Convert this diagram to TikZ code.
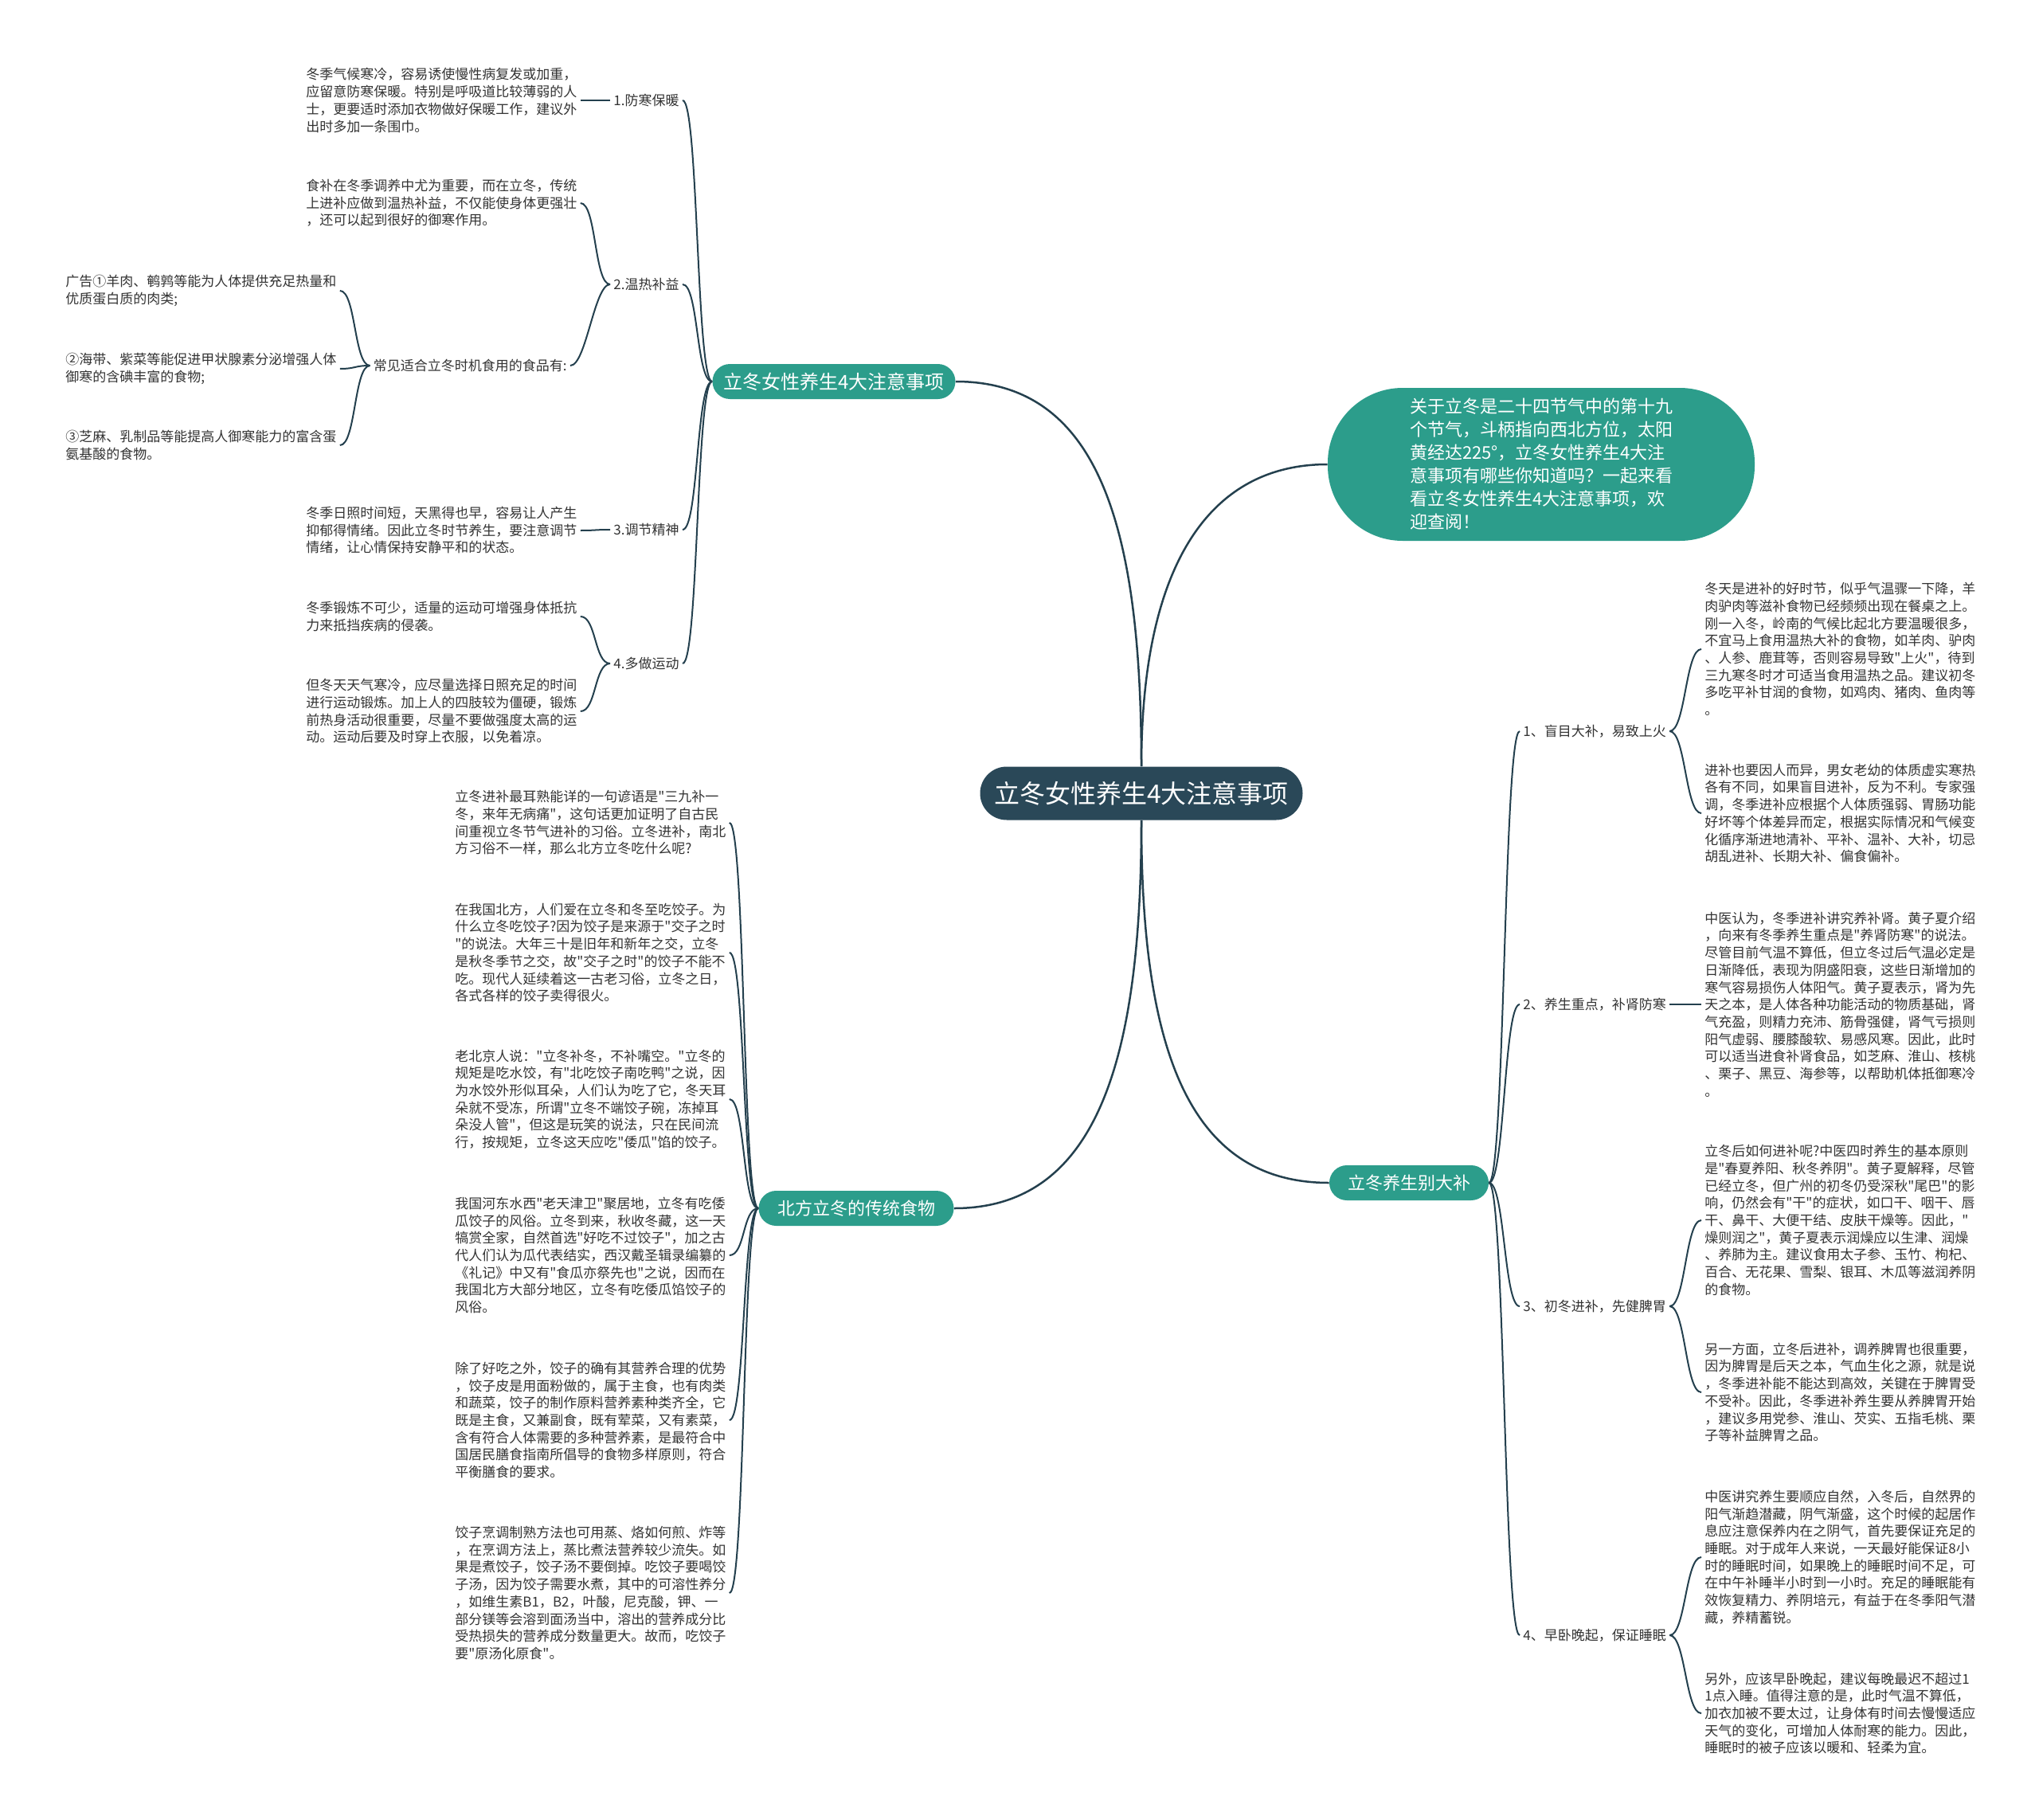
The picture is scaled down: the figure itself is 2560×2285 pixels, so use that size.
\documentclass[tikz,border=0pt]{standalone}
\usepackage{fontspec}
\setmainfont{Noto Sans CJK SC}[Ligatures=TeXOff]
\definecolor{rootc}{HTML}{2A4858}
\definecolor{pillc}{HTML}{2C9D8B}
\definecolor{linec}{HTML}{24404E}
\definecolor{txtc}{HTML}{333333}
\newcommand\lnkL[2]{\draw[link] (#1.west) .. controls +(-20,0) and +(20,0) .. (#2.east);}
\newcommand\lnkR[2]{\draw[link] (#1.east) .. controls +(20,0) and +(-20,0) .. (#2.west);}
\begin{document}
\begin{tikzpicture}[x=0.5pt, y=-0.5pt,
  rootnode/.style={fill=rootc, text=white, rounded corners=16.7pt, minimum width=202.5pt, minimum height=33.5pt, inner sep=0pt, font=\fontsize{16pt}{19pt}\selectfont},
  pill/.style={fill=pillc, text=white, rounded corners=11pt, minimum height=22pt, inner sep=0pt, font=\fontsize{11pt}{13pt}\selectfont},
  leaf/.style={text=txtc, align=left, inner xsep=2pt, inner ysep=0pt, font=\fontsize{8.5pt}{10.85pt}\selectfont},
  link/.style={draw=linec, line width=1pt},
  mainlink/.style={draw=linec, line width=1.25pt}]
  \fill[white] (0,0) rectangle (2560,2285);
  \useasboundingbox (0,0) rectangle (2560,2285);

  \node[rootnode] (root) at (1433,996) {立冬女性养生4大注意事项};
  \node[fill=pillc, text=white, rounded corners=47pt, minimum width=268pt, minimum height=96pt, align=left, inner sep=0pt, font=\fontsize{11pt}{14.5pt}\selectfont] (intro) at (1935,583)
    {关于立冬是二十四节气中的第十九\\个节气，斗柄指向西北方位，太阳\\黄经达225°，立冬女性养生4大注\\意事项有哪些你知道吗？一起来看\\看立冬女性养生4大注意事项，欢\\迎查阅！};
  \node[pill, minimum width=152.5pt, font=\fontsize{12pt}{14pt}\selectfont] (tips) at (1047,479) {立冬女性养生4大注意事项};
  \node[pill, minimum width=122.5pt] (food) at (1075,1517) {北方立冬的传统食物};
  \node[pill, minimum width=100pt] (diet) at (1769,1485) {立冬养生别大补};

  \draw[mainlink] (root.north) .. controls +(0,-300) and +(180,0) .. (tips.east);
  \draw[mainlink] (root.north) .. controls +(0,-250) and +(-150,0) .. (intro.west);
  \draw[mainlink] (root.south) .. controls +(0,300) and +(180,0) .. (food.east);
  \draw[mainlink] (root.south) .. controls +(0,280) and +(-180,0) .. (diet.west);

  % upper left branch
  \node[leaf, anchor=east] (t1) at (857,126) {1.防寒保暖};
  \node[leaf, anchor=east] (t2) at (857,357) {2.温热补益};
  \node[leaf, anchor=east] (t3) at (857,665) {3.调节精神};
  \node[leaf, anchor=east] (t4) at (857,833) {4.多做运动};
  \node[leaf, anchor=west] (t1a) at (380,126) {冬季气候寒冷，容易诱使慢性病复发或加重，\\应留意防寒保暖。特别是呼吸道比较薄弱的人\\士，更要适时添加衣物做好保暖工作，建议外\\出时多加一条围巾。};
  \node[leaf, anchor=west] (t2a) at (380,255) {食补在冬季调养中尤为重要，而在立冬，传统\\上进补应做到温热补益，不仅能使身体更强壮\\，还可以起到很好的御寒作用。};
  \node[leaf, anchor=east] (t2b) at (716,459) {常见适合立冬时机食用的食品有:};
  \node[leaf, anchor=west] (ad1) at (78,365) {广告①羊肉、鹌鹑等能为人体提供充足热量和\\优质蛋白质的肉类;};
  \node[leaf, anchor=west] (ad2) at (78,463) {②海带、紫菜等能促进甲状腺素分泌增强人体\\御寒的含碘丰富的食物;};
  \node[leaf, anchor=west] (ad3) at (78,559) {③芝麻、乳制品等能提高人御寒能力的富含蛋\\氨基酸的食物。};
  \node[leaf, anchor=west] (t3a) at (380,666) {冬季日照时间短，天黑得也早，容易让人产生\\抑郁得情绪。因此立冬时节养生，要注意调节\\情绪，让心情保持安静平和的状态。};
  \node[leaf, anchor=west] (t4a) at (380,774) {冬季锻炼不可少，适量的运动可增强身体抵抗\\力来抵挡疾病的侵袭。};
  \node[leaf, anchor=west] (t4b) at (380,893) {但冬天天气寒冷，应尽量选择日照充足的时间\\进行运动锻炼。加上人的四肢较为僵硬，锻炼\\前热身活动很重要，尽量不要做强度太高的运\\动。运动后要及时穿上衣服，以免着凉。};
  \foreach \c in {t1,t2,t3,t4} {\lnkL{tips}{\c}}
  \lnkL{t1}{t1a}
  \lnkL{t2}{t2a}
  \lnkL{t2}{t2b}
  \foreach \c in {ad1,ad2,ad3} {\lnkL{t2b}{\c}}
  \lnkL{t3}{t3a}
  \lnkL{t4}{t4a}
  \lnkL{t4}{t4b}

  % lower left branch
  \node[leaf, anchor=west] (f1) at (567,1033) {立冬进补最耳熟能详的一句谚语是"三九补一\\冬，来年无病痛"，这句话更加证明了自古民\\间重视立冬节气进补的习俗。立冬进补，南北\\方习俗不一样，那么北方立冬吃什么呢?};
  \node[leaf, anchor=west] (f2) at (567,1196) {在我国北方，人们爱在立冬和冬至吃饺子。为\\什么立冬吃饺子?因为饺子是来源于"交子之时\\"的说法。大年三十是旧年和新年之交，立冬\\是秋冬季节之交，故"交子之时"的饺子不能不\\吃。现代人延续着这一古老习俗，立冬之日，\\各式各样的饺子卖得很火。};
  \node[leaf, anchor=west] (f3) at (567,1380) {老北京人说："立冬补冬，不补嘴空。"立冬的\\规矩是吃水饺，有"北吃饺子南吃鸭"之说，因\\为水饺外形似耳朵，人们认为吃了它，冬天耳\\朵就不受冻，所谓"立冬不端饺子碗，冻掉耳\\朵没人管"，但这是玩笑的说法，只在民间流\\行，按规矩，立冬这天应吃"倭瓜"馅的饺子。};
  \node[leaf, anchor=west] (f4) at (567,1576) {我国河东水西"老天津卫"聚居地，立冬有吃倭\\瓜饺子的风俗。立冬到来，秋收冬藏，这一天\\犒赏全家，自然首选"好吃不过饺子"，加之古\\代人们认为瓜代表结实，西汉戴圣辑录编纂的\\《礼记》中又有"食瓜亦祭先也"之说，因而在\\我国北方大部分地区，立冬有吃倭瓜馅饺子的\\风俗。};
  \node[leaf, anchor=west] (f5) at (567,1783) {除了好吃之外，饺子的确有其营养合理的优势\\，饺子皮是用面粉做的，属于主食，也有肉类\\和蔬菜，饺子的制作原料营养素种类齐全，它\\既是主食，又兼副食，既有荤菜，又有素菜，\\含有符合人体需要的多种营养素，是最符合中\\国居民膳食指南所倡导的食物多样原则，符合\\平衡膳食的要求。};
  \node[leaf, anchor=west] (f6) at (567,2000) {饺子烹调制熟方法也可用蒸、烙如何煎、炸等\\，在烹调方法上，蒸比煮法营养较少流失。如\\果是煮饺子，饺子汤不要倒掉。吃饺子要喝饺\\子汤，因为饺子需要水煮，其中的可溶性养分\\，如维生素B1，B2，叶酸，尼克酸，钾、一\\部分镁等会溶到面汤当中，溶出的营养成分比\\受热损失的营养成分数量更大。故而，吃饺子\\要"原汤化原食"。};
  \foreach \c in {f1,f2,f3,f4,f5,f6} {\lnkL{food}{\c}}

  % right branch
  \node[leaf, anchor=west] (d1) at (1908,918) {1、盲目大补，易致上火};
  \node[leaf, anchor=west] (d2) at (1908,1261) {2、养生重点，补肾防寒};
  \node[leaf, anchor=west] (d3) at (1908,1640) {3、初冬进补，先健脾胃};
  \node[leaf, anchor=west] (d4) at (1908,2053) {4、早卧晚起，保证睡眠};
  \node[leaf, anchor=west] (d1a) at (2136,815) {冬天是进补的好时节，似乎气温骤一下降，羊\\肉驴肉等滋补食物已经频频出现在餐桌之上。\\刚一入冬，岭南的气候比起北方要温暖很多，\\不宜马上食用温热大补的食物，如羊肉、驴肉\\、人参、鹿茸等，否则容易导致"上火"，待到\\三九寒冬时才可适当食用温热之品。建议初冬\\多吃平补甘润的食物，如鸡肉、猪肉、鱼肉等\\。};
  \node[leaf, anchor=west] (d1b) at (2136,1021) {进补也要因人而异，男女老幼的体质虚实寒热\\各有不同，如果盲目进补，反为不利。专家强\\调，冬季进补应根据个人体质强弱、胃肠功能\\好坏等个体差异而定，根据实际情况和气候变\\化循序渐进地清补、平补、温补、大补，切忌\\胡乱进补、长期大补、偏食偏补。};
  \node[leaf, anchor=west] (d2a) at (2136,1261) {中医认为，冬季进补讲究养补肾。黄子夏介绍\\，向来有冬季养生重点是"养肾防寒"的说法。\\尽管目前气温不算低，但立冬过后气温必定是\\日渐降低，表现为阴盛阳衰，这些日渐增加的\\寒气容易损伤人体阳气。黄子夏表示，肾为先\\天之本，是人体各种功能活动的物质基础，肾\\气充盈，则精力充沛、筋骨强健，肾气亏损则\\阳气虚弱、腰膝酸软、易感风寒。因此，此时\\可以适当进食补肾食品，如芝麻、淮山、核桃\\、栗子、黑豆、海参等，以帮助机体抵御寒冷\\。};
  \node[leaf, anchor=west] (d3a) at (2136,1532) {立冬后如何进补呢?中医四时养生的基本原则\\是"春夏养阳、秋冬养阴"。黄子夏解释，尽管\\已经立冬，但广州的初冬仍受深秋"尾巴"的影\\响，仍然会有"干"的症状，如口干、咽干、唇\\干、鼻干、大便干结、皮肤干燥等。因此，"\\燥则润之"，黄子夏表示润燥应以生津、润燥\\、养肺为主。建议食用太子参、玉竹、枸杞、\\百合、无花果、雪梨、银耳、木瓜等滋润养阴\\的食物。};
  \node[leaf, anchor=west] (d3b) at (2136,1748) {另一方面，立冬后进补，调养脾胃也很重要，\\因为脾胃是后天之本，气血生化之源，就是说\\，冬季进补能不能达到高效，关键在于脾胃受\\不受补。因此，冬季进补养生要从养脾胃开始\\，建议多用党参、淮山、芡实、五指毛桃、栗\\子等补益脾胃之品。};
  \node[leaf, anchor=west] (d4a) at (2136,1955) {中医讲究养生要顺应自然，入冬后，自然界的\\阳气渐趋潜藏，阴气渐盛，这个时候的起居作\\息应注意保养内在之阴气，首先要保证充足的\\睡眠。对于成年人来说，一天最好能保证8小\\时的睡眠时间，如果晚上的睡眠时间不足，可\\在中午补睡半小时到一小时。充足的睡眠能有\\效恢复精力、养阴培元，有益于在冬季阳气潜\\藏，养精蓄锐。};
  \node[leaf, anchor=west] (d4b) at (2136,2151) {另外，应该早卧晚起，建议每晚最迟不超过1\\1点入睡。值得注意的是，此时气温不算低，\\加衣加被不要太过，让身体有时间去慢慢适应\\天气的变化，可增加人体耐寒的能力。因此，\\睡眠时的被子应该以暖和、轻柔为宜。};
  \foreach \c in {d1,d2,d3,d4} {\lnkR{diet}{\c}}
  \lnkR{d1}{d1a}
  \lnkR{d1}{d1b}
  \lnkR{d2}{d2a}
  \lnkR{d3}{d3a}
  \lnkR{d3}{d3b}
  \lnkR{d4}{d4a}
  \lnkR{d4}{d4b}
\end{tikzpicture}
\end{document}
